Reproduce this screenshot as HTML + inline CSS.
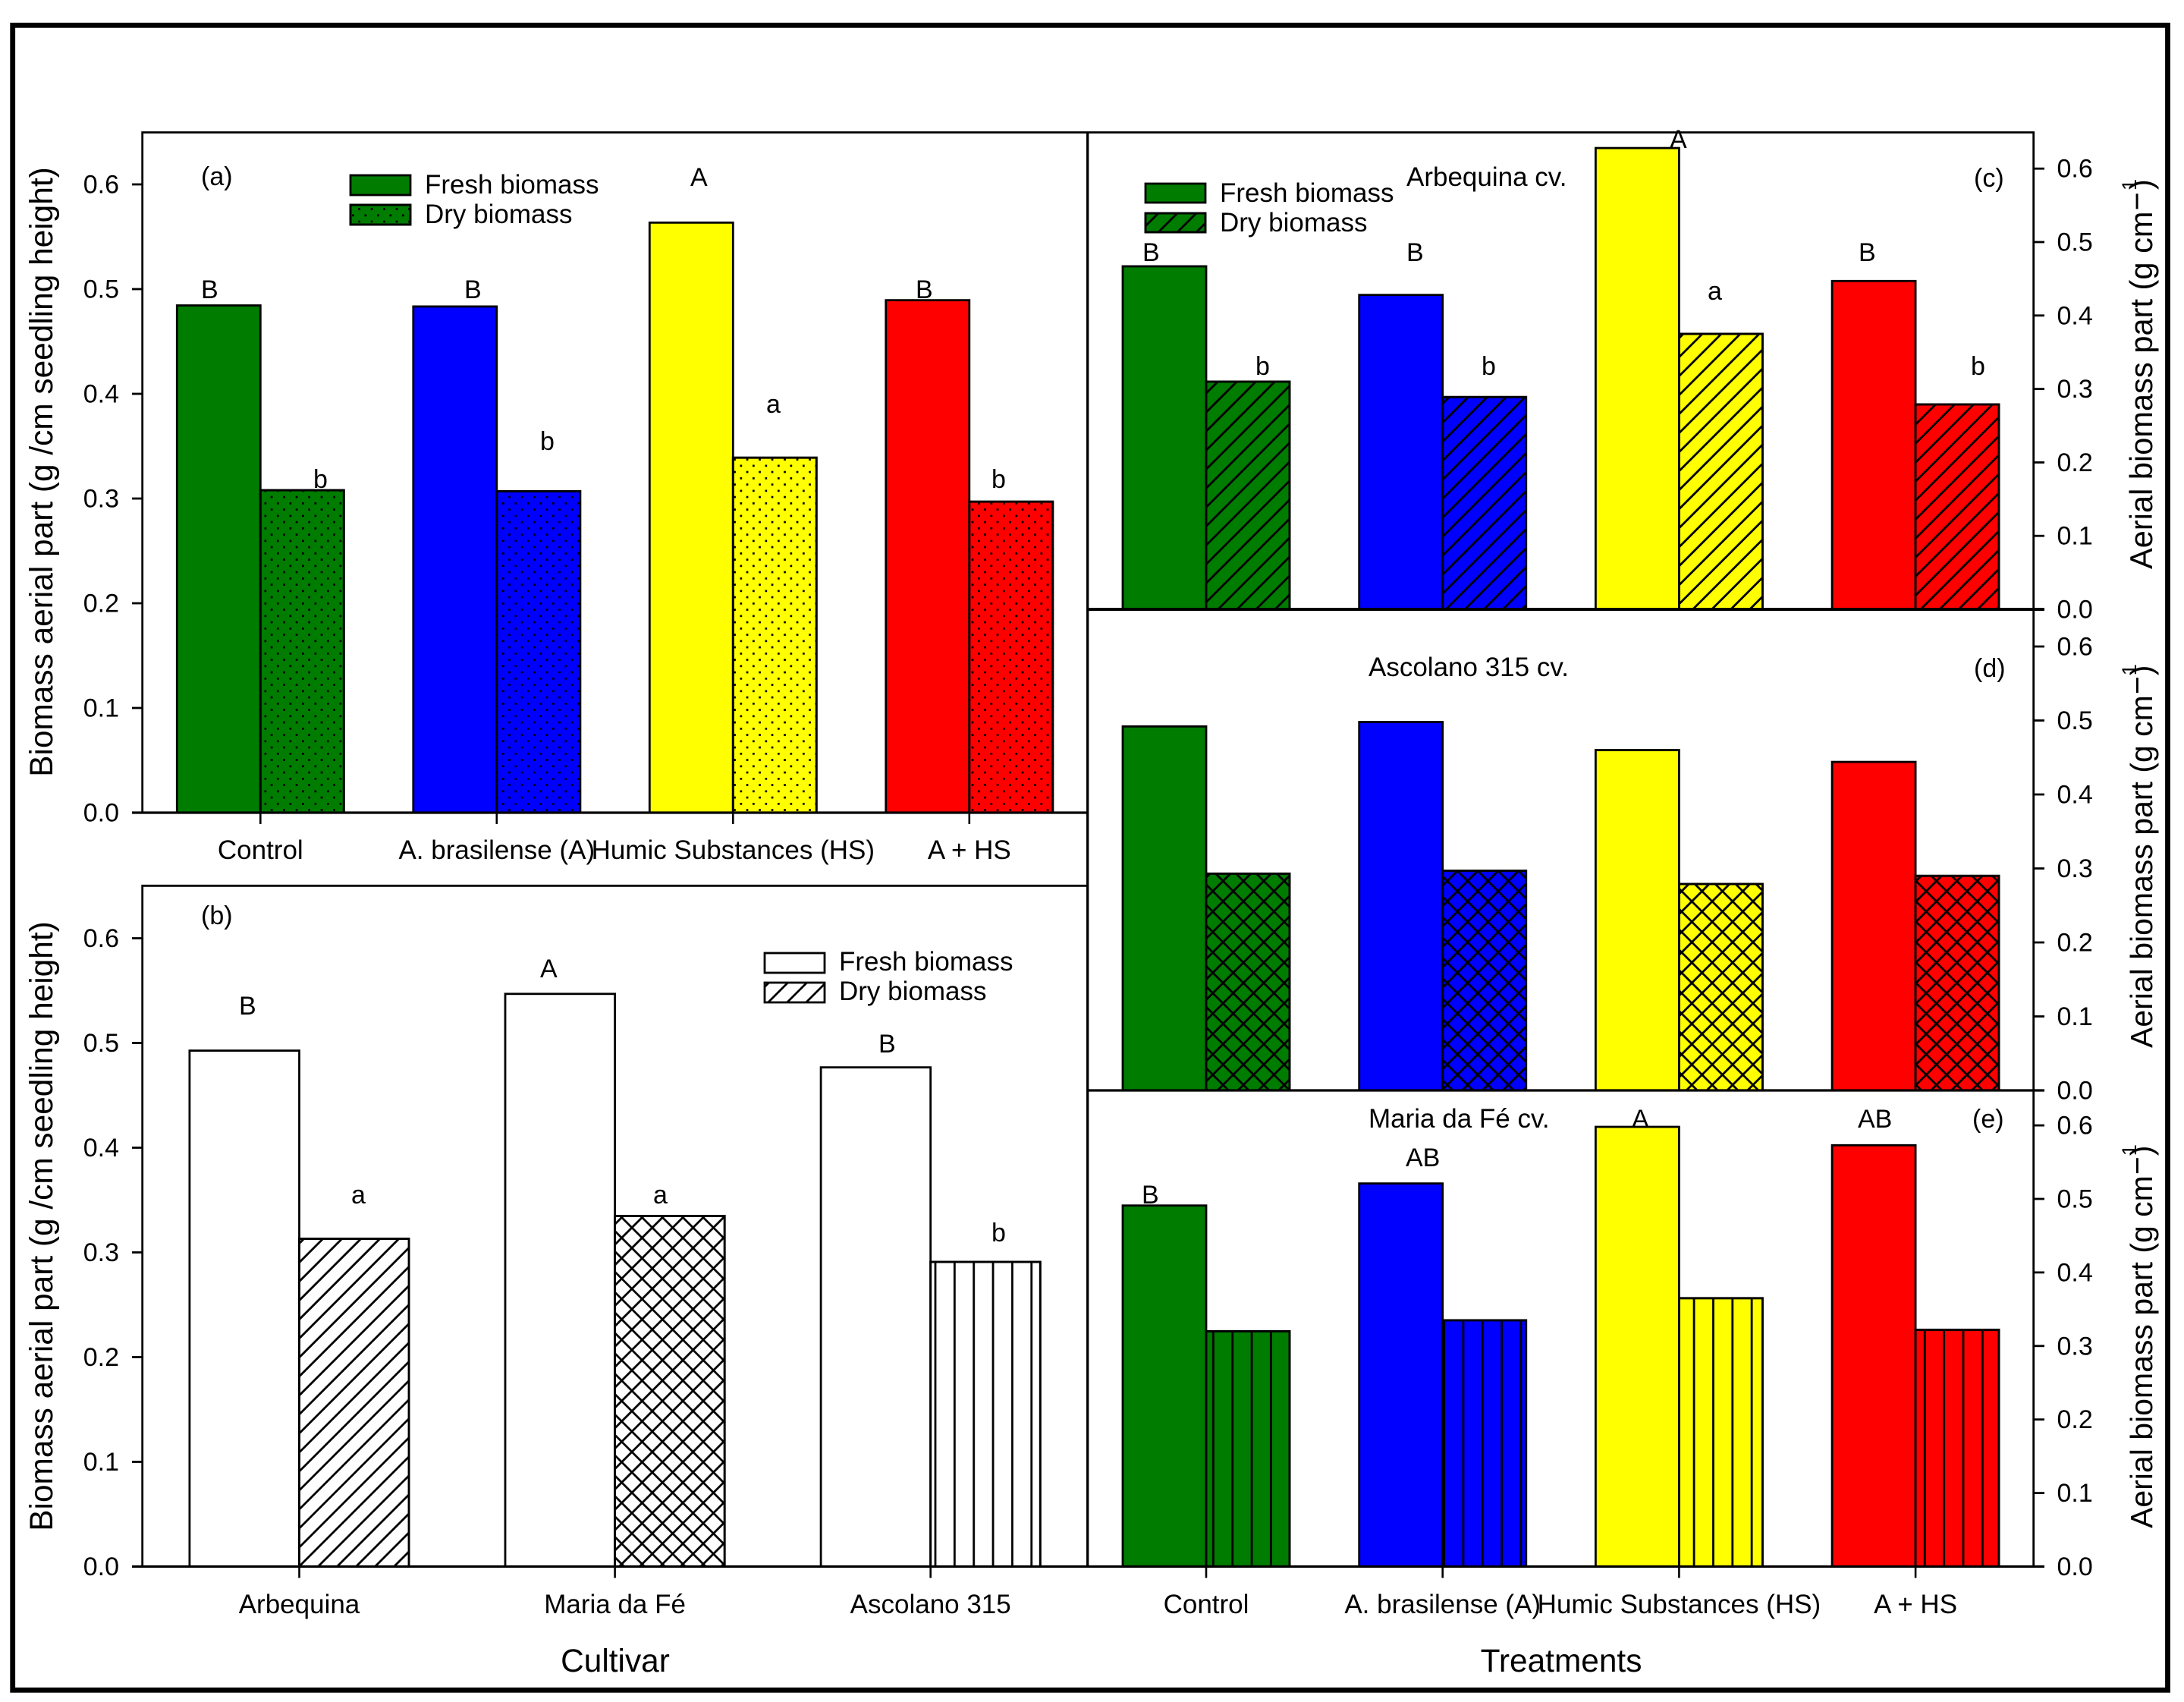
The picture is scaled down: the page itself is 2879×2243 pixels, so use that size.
<!DOCTYPE html>
<html lang="en">
<head>
<meta charset="utf-8">
<title>Biomass aerial part charts</title>
<style>
html,body{margin:0;padding:0;background:#fff}
svg{display:block}
text{font-family:"Liberation Sans",Arial,sans-serif;fill:#000}
.t{font-size:34px}
.c{font-size:35px;text-anchor:middle}
.l{font-size:35px}
.k{font-size:34px}
.ti{font-size:35px}
.big{font-size:42.4px;text-anchor:middle}
.r{font-size:41.6px}
.r2{font-size:41px}
.fr{fill:none;stroke:#000;stroke-width:2.8}
</style>
</head>
<body>
<svg id="chart" xmlns="http://www.w3.org/2000/svg" width="2879" height="2243" viewBox="0 0 2879 2243">
<defs>
<pattern id="p-dots" patternUnits="userSpaceOnUse" width="16.5" height="16.5"><rect x="2" y="2" width="2.7" height="2.7" fill="#000"/><rect x="10.2" y="10.2" width="2.7" height="2.7" fill="#000"/></pattern>
<pattern id="p-diag" patternUnits="userSpaceOnUse" width="17.7" height="17.7" patternTransform="rotate(45)"><line x1="4" y1="0" x2="4" y2="17.7" stroke="#000" stroke-width="2.8"/></pattern>
<pattern id="p-cross" patternUnits="userSpaceOnUse" width="19" height="19" patternTransform="rotate(45)"><line x1="4" y1="0" x2="4" y2="19" stroke="#000" stroke-width="2.8"/><line x1="0" y1="4" x2="19" y2="4" stroke="#000" stroke-width="2.8"/></pattern>
<pattern id="p-vert-e" patternUnits="userSpaceOnUse" width="25.35" height="40" x="0.8"><line x1="1.5" y1="0" x2="1.5" y2="40" stroke="#000" stroke-width="2.8"/></pattern>
<pattern id="p-vert-b" patternUnits="userSpaceOnUse" width="25.35" height="40" x="14.7"><line x1="1.5" y1="0" x2="1.5" y2="40" stroke="#000" stroke-width="2.8"/></pattern>
</defs>

<rect width="2879" height="2243" fill="#fff"/>
<g id="marks"></g>

<g>
  <path class="fr" d="M187.7 1071V174.5H1433"/>
  <path class="fr" d="M187.7 2064.5V1167.3H1433"/>
  <path fill="none" stroke="#000" stroke-width="3.3" d="M1433.7 174V2065"/>
  <path class="fr" d="M1433 174.5H2680.7V2065"/>
  <path fill="none" stroke="#000" stroke-width="3.3" d="M174 1071H1433"/>
  <path fill="none" stroke="#000" stroke-width="3.3" d="M174 2064.5H1433"/>
  <path fill="none" stroke="#000" stroke-width="4" d="M1433 803H2695"/>
  <path fill="none" stroke="#000" stroke-width="3.3" d="M1433 1437H2695"/>
  <path fill="none" stroke="#000" stroke-width="3.3" d="M1433 2064.5H2695"/>
</g>
<g id="axes"></g>

<rect x="16.7" y="33.3" width="2840.8" height="2194" fill="none" stroke="#000" stroke-width="6.8"/>

<g>
  <text class="big" transform="translate(69 622) rotate(-90)">Biomass aerial part (g /cm seedling height)</text>
  <text class="big" transform="translate(69 1616) rotate(-90)">Biomass aerial part (g /cm seedling height)</text>
  <text class="r" transform="translate(2837 750) rotate(-90)">Aerial biomass part (g cm<tspan dx="1" dy="-6">−</tspan><tspan dx="2" dy="-15" font-size="27">1</tspan><tspan dx="-14" dy="21">)</tspan></text>
  <text class="r2" transform="translate(2837 1381) rotate(-90)">Aerial biomass part (g cm<tspan dx="1" dy="-6">−</tspan><tspan dx="1" dy="-15" font-size="27">1</tspan><tspan dx="-15" dy="21">)</tspan></text>
  <text class="r2" transform="translate(2837 2014) rotate(-90)">Aerial biomass part (g cm<tspan dx="1" dy="-6">−</tspan><tspan dx="1" dy="-15" font-size="27">1</tspan><tspan dx="-15" dy="21">)</tspan></text>
  <text class="big" x="811" y="2203">Cultivar</text>
  <text class="big" x="2058" y="2203">Treatments</text>
</g>

<g>
  <text class="k" x="265" y="244">(a)</text>
  <rect x="462" y="231" width="79" height="26" fill="#007c00" stroke="#000" stroke-width="2.8"/>
  <rect x="462" y="270" width="79" height="26" fill="#007c00" stroke="#000" stroke-width="2.8"/>
  <rect x="462" y="270" width="79" height="26" fill="url(#p-dots)" stroke="#000" stroke-width="2.8"/>
  <text class="l" x="560" y="255">Fresh biomass</text>
  <text class="l" x="560" y="294">Dry biomass</text>
  <text class="k" x="265" y="393">B</text>
  <text class="k" x="612" y="393">B</text>
  <text class="k" x="910" y="245">A</text>
  <text class="k" x="1207" y="393">B</text>
  <text class="k" x="413" y="643">b</text>
  <text class="k" x="712" y="593">b</text>
  <text class="k" x="1010" y="544">a</text>
  <text class="k" x="1307" y="643">b</text>
</g>

<g>
  <text class="k" x="265" y="1218">(b)</text>
  <rect x="1008" y="1256" width="79" height="26" fill="#fff" stroke="#000" stroke-width="2.8"/>
  <rect x="1008" y="1295" width="79" height="26" fill="url(#p-diag)" stroke="#000" stroke-width="2.8"/>
  <text class="l" x="1106" y="1279">Fresh biomass</text>
  <text class="l" x="1106" y="1318">Dry biomass</text>
  <text class="k" x="315" y="1337">B</text>
  <text class="k" x="712" y="1288">A</text>
  <text class="k" x="1158" y="1387">B</text>
  <text class="k" x="463" y="1586">a</text>
  <text class="k" x="861" y="1586">a</text>
  <text class="k" x="1307" y="1636">b</text>
</g>

<g>
  <text class="ti" x="1854" y="245">Arbequina cv.</text>
  <text class="k" x="2602" y="246">(c)</text>
  <rect x="1510" y="242" width="79" height="25" fill="#007c00" stroke="#000" stroke-width="2.8"/>
  <rect x="1510" y="281" width="79" height="25" fill="#007c00" stroke="#000" stroke-width="2.8"/>
  <rect x="1510" y="281" width="79" height="25" fill="url(#p-diag)" stroke="#000" stroke-width="2.8"/>
  <text class="l" x="1608" y="266">Fresh biomass</text>
  <text class="l" x="1608" y="305">Dry biomass</text>
  <text class="k" x="1506" y="344">B</text>
  <text class="k" x="1854" y="344">B</text>
  <text class="k" x="2201" y="195">A</text>
  <text class="k" x="2450" y="344">B</text>
  <text class="k" x="1655" y="494">b</text>
  <text class="k" x="1953" y="494">b</text>
  <text class="k" x="2251" y="395">a</text>
  <text class="k" x="2598" y="494">b</text>
</g>

<g>
  <text class="ti" x="1804" y="891">Ascolano 315 cv.</text>
  <text class="k" x="2602" y="892">(d)</text>
</g>

<g>
  <text class="ti" x="1804" y="1486">Maria da Fé cv.</text>
  <text class="k" x="2600" y="1486">(e)</text>
  <text class="k" x="1505" y="1586">B</text>
  <text class="k" x="1853" y="1537">AB</text>
  <text class="k" x="2151" y="1486">A</text>
  <text class="k" x="2449" y="1486">AB</text>
</g>
</svg>

<script>
const treatments = ['Control', 'A. brasilense (A)', 'Humic Substances (HS)', 'A + HS'];
const cultivars = ['Arbequina', 'Maria da Fé', 'Ascolano 315'];
const tickLabels = ['0.0', '0.1', '0.2', '0.3', '0.4', '0.5', '0.6'];

const freshA = [0.4844, 0.4834, 0.5635, 0.4894];
const dryA = [0.308, 0.307, 0.339, 0.297];
const freshB = [0.4927, 0.5469, 0.4767];
const dryB = [0.313, 0.3348, 0.2909];
const freshC = [0.467, 0.428, 0.628, 0.447];
const dryC = [0.310, 0.289, 0.375, 0.279];
const freshD = [0.492, 0.498, 0.460, 0.444];
const dryD = [0.293, 0.297, 0.279, 0.290];
const freshE = [0.491, 0.521, 0.598, 0.573];
const dryE = [0.320, 0.335, 0.365, 0.322];

const NS = 'http://www.w3.org/2000/svg';
const marks = document.getElementById('marks');
const axes = document.getElementById('axes');
const treatmentColors = ['#007c00', '#0000ff', '#ffff00', '#ff0000'];

function node(parent, tag, attrs) {
  const el = document.createElementNS(NS, tag);
  Object.keys(attrs).forEach(function (k) { el.setAttribute(k, attrs[k]); });
  parent.appendChild(el);
  return el;
}

function yScale(base, perUnit) {
  return function (v) { return base - v * perUnit; };
}

function xScale(first, step) {
  return function (i) { return first + i * step; };
}

function drawBar(name, x, y, w, base, fill, hatch, sw) {
  const g = node(marks, 'g', {});
  
  
  node(g, 'rect', { x: x, y: y, width: w, height: base - y, fill: fill, stroke: '#000', 'stroke-width': sw });
  if (hatch) {
    node(g, 'rect', { x: x, y: y, width: w, height: base - y, fill: 'url(#' + hatch + ')', stroke: '#000', 'stroke-width': sw });
  }
}

function drawPanel(p) {
  const y = yScale(p.base, p.perUnit);
  const x = xScale(p.first, p.step);
  p.fresh.forEach(function (v, i) {
    const fill = p.mono ? '#fff' : treatmentColors[i];
    const hatch = p.hatches[i];
    drawBar(p.id + '-fresh-bar-' + (i + 1), x(i) - p.barW, y(v), p.barW, p.base, fill, null, p.sw);
    drawBar(p.id + '-dry-bar-' + (i + 1), x(i), y(p.dry[i]), p.barW, p.base, fill, hatch, p.sw);
  });
  tickLabels.forEach(function (label) {
    const v = parseFloat(label);
    const ty = y(v);
    const tick = node(axes, 'line', { x1: p.tickX1, x2: p.tickX2, y1: ty, y2: ty, stroke: '#000', 'stroke-width': 2.8 });
    
    
    const t = node(axes, 'text', { x: p.labelX, y: ty + 11.5, 'text-anchor': p.anchor, class: 't' });
    
    
    t.textContent = label;
  });
  if (p.categories) {
    p.categories.forEach(function (c, i) {
      const tick = node(axes, 'line', { x1: x(i), x2: x(i), y1: p.base, y2: p.base + 15, stroke: '#000', 'stroke-width': 2.6 });
      
      
      const t = node(axes, 'text', { x: x(i), y: p.catY, class: 'c' });
      
      
      t.textContent = c;
    });
  }
}

const leftAxis = { tickX1: 174, tickX2: 187.7, labelX: 157, anchor: 'end' };
const rightAxis = { tickX1: 2680.7, tickX2: 2695, labelX: 2711.5, anchor: 'start' };
const fourBars = { first: 1590, step: 311.7, barW: 110, sw: 2.8 };

drawPanel(Object.assign({ id: 'panel-a', base: 1071, perUnit: 1380, first: 343.3, step: 311.5, barW: 110, sw: 2.8, fresh: freshA, dry: dryA, hatches: ['p-dots', 'p-dots', 'p-dots', 'p-dots'], categories: treatments, catY: 1132 }, leftAxis));
drawPanel(Object.assign({ id: 'panel-b', base: 2064.5, perUnit: 1380, first: 394.5, step: 416.1, barW: 144.6, sw: 2.8, mono: true, fresh: freshB, dry: dryB, hatches: ['p-diag', 'p-cross', 'p-vert-b'], categories: cultivars, catY: 2126 }, leftAxis));
drawPanel(Object.assign({ id: 'panel-c', base: 803, perUnit: 968, fresh: freshC, dry: dryC, hatches: ['p-diag', 'p-diag', 'p-diag', 'p-diag'] }, fourBars, rightAxis));
drawPanel(Object.assign({ id: 'panel-d', base: 1437, perUnit: 975, fresh: freshD, dry: dryD, hatches: ['p-cross', 'p-cross', 'p-cross', 'p-cross'] }, fourBars, rightAxis));
drawPanel(Object.assign({ id: 'panel-e', base: 2064.5, perUnit: 969, fresh: freshE, dry: dryE, hatches: ['p-vert-e', 'p-vert-e', 'p-vert-e', 'p-vert-e'], categories: treatments, catY: 2126 }, fourBars, rightAxis));
</script>
</body>
</html>
